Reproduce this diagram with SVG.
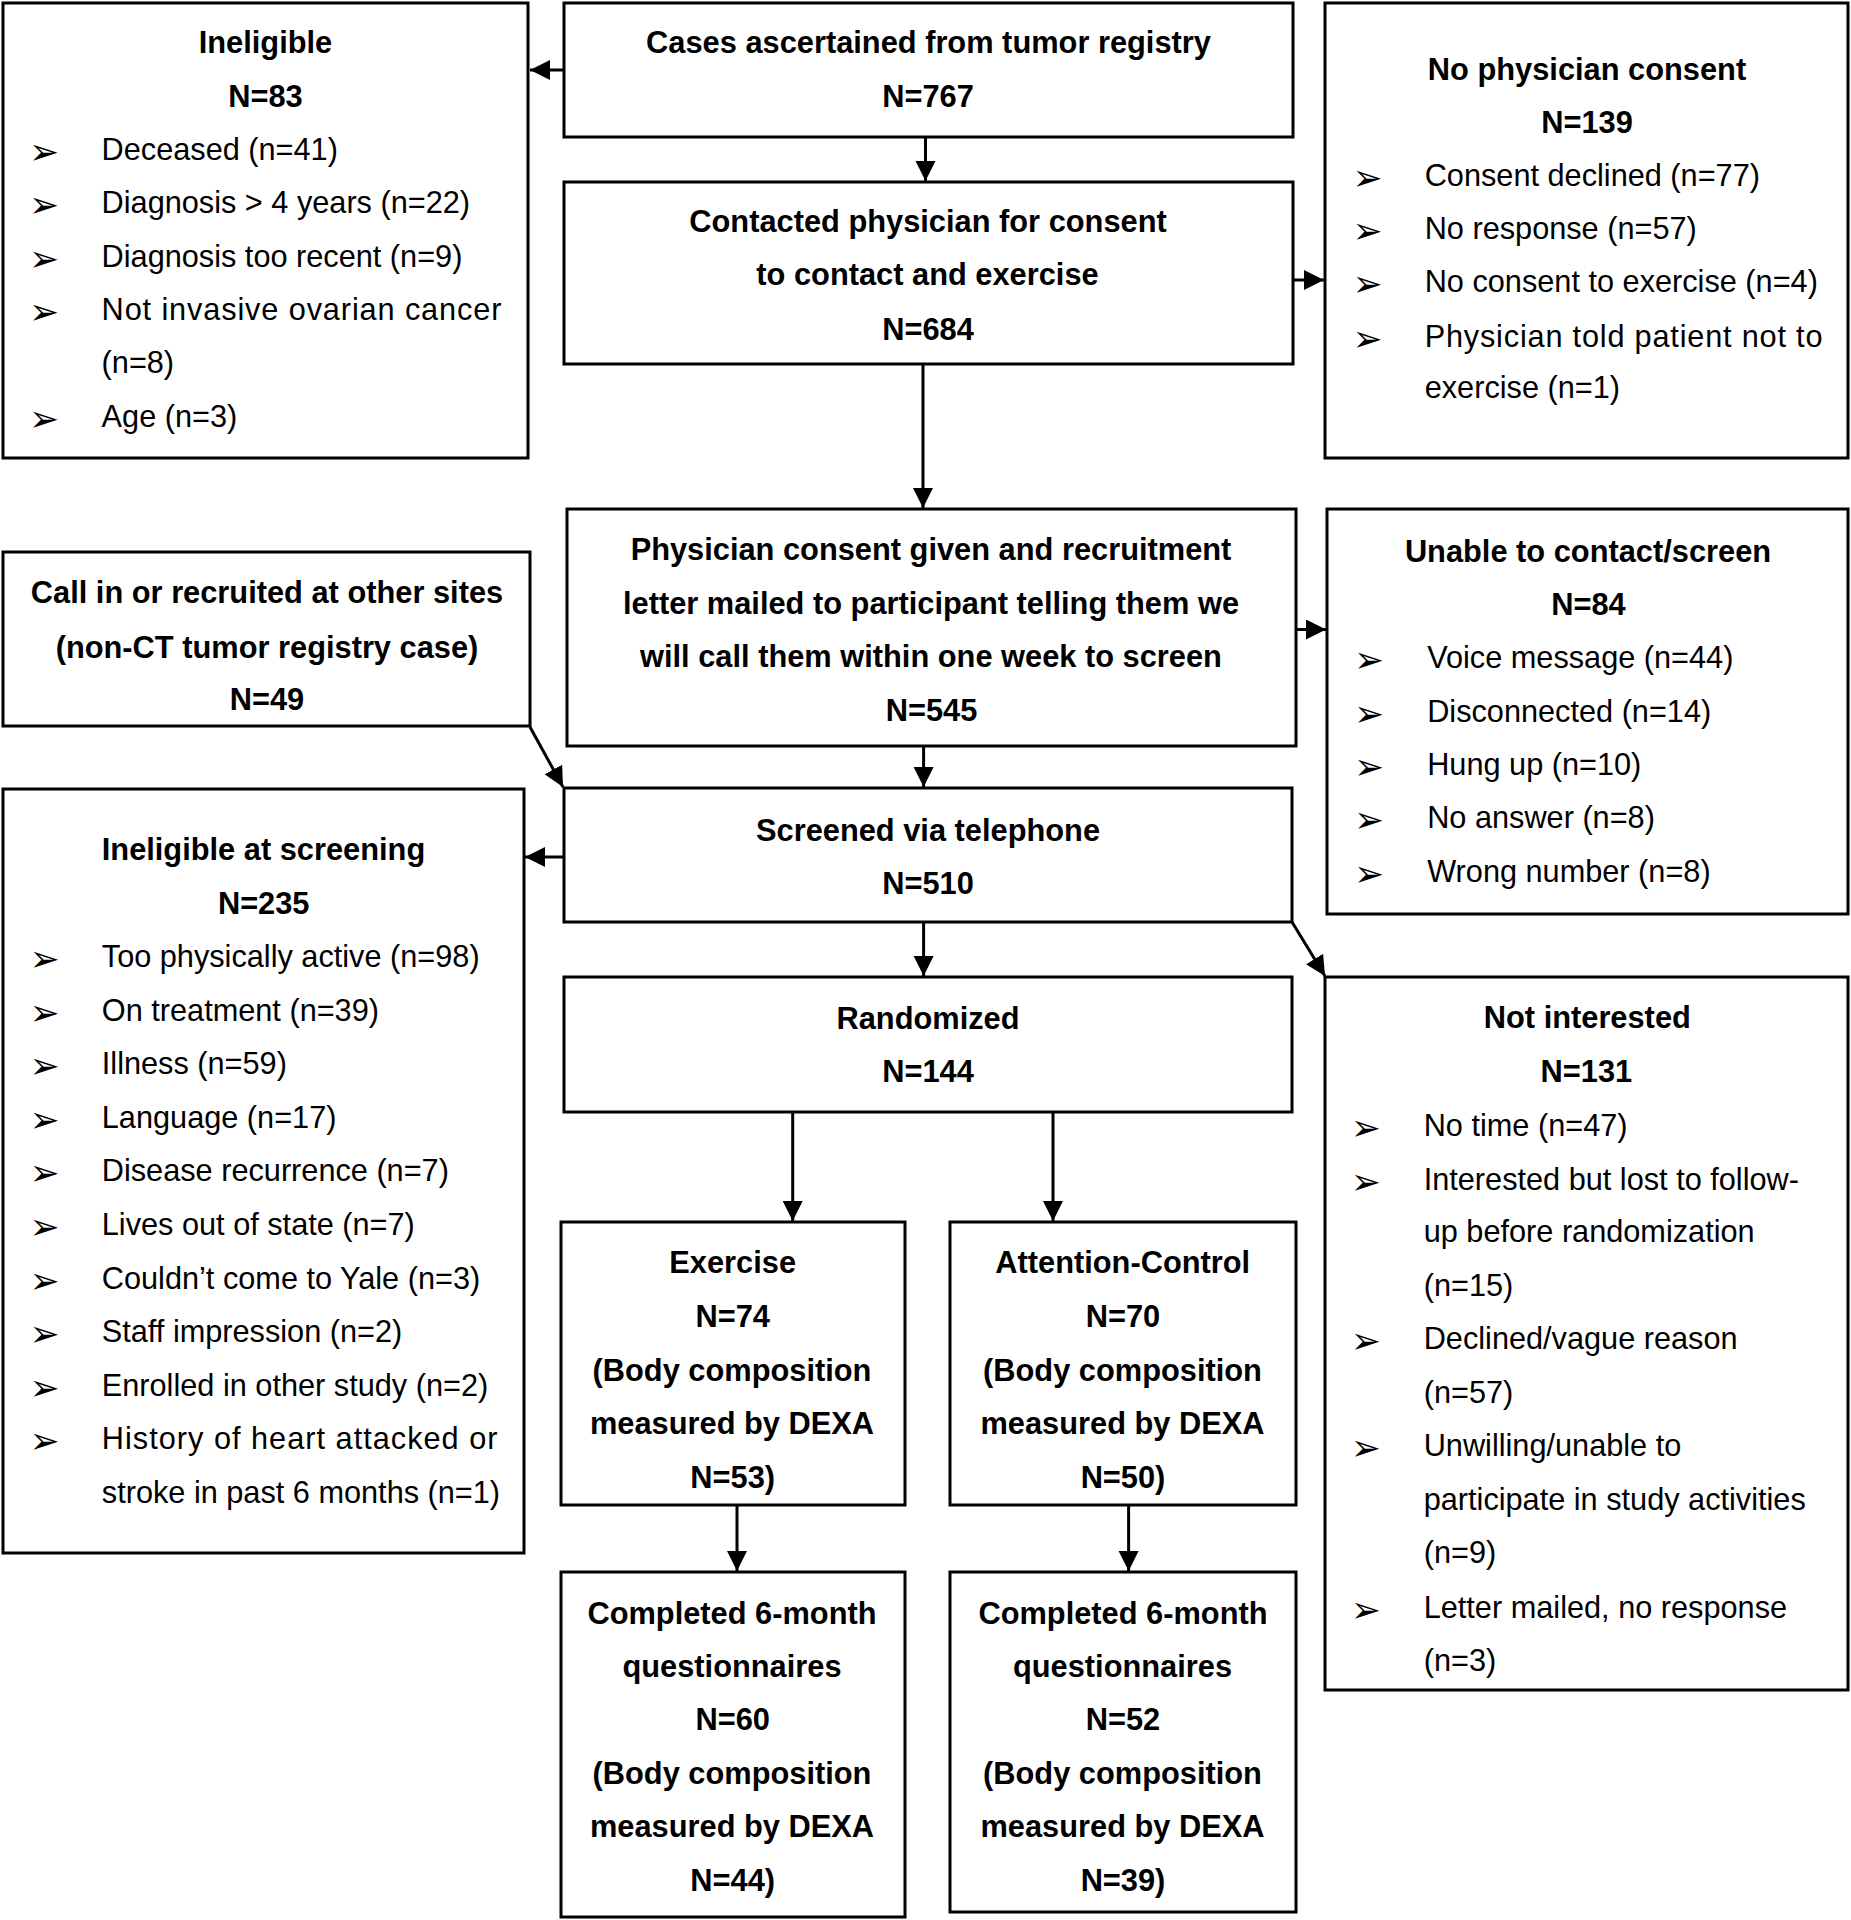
<svg xmlns="http://www.w3.org/2000/svg" width="1851" height="1920" viewBox="0 0 1851 1920">
<defs>
<marker id="ah" markerUnits="userSpaceOnUse" markerWidth="22" markerHeight="22" refX="20" refY="10" orient="auto">
<path d="M0,0 L20,10 L0,20 z" fill="#000"/>
</marker>
<style>
.box{fill:#fff;stroke:#000;stroke-width:3}
.b{font-family:"Liberation Sans",Arial,sans-serif;font-weight:bold;font-size:30.8px;text-anchor:middle;fill:#000}
.t{font-family:"Liberation Sans",Arial,sans-serif;font-size:30.7px;fill:#000}
.bl{font-family:"DejaVu Sans",sans-serif;font-size:36px;fill:#000}
.c{fill:none;stroke:#000;stroke-width:3;marker-end:url(#ah)}
</style>
</defs>
<rect width="1851" height="1920" fill="#fff"/>

<g id="connectors">
<line class="c" x1="563" y1="70" x2="530" y2="70"/>
<line class="c" x1="925.5" y1="137" x2="925.5" y2="181"/>
<line class="c" x1="1293" y1="280" x2="1324" y2="280"/>
<line class="c" x1="923" y1="364" x2="923" y2="508"/>
<line class="c" x1="1296" y1="629.5" x2="1326" y2="629.5"/>
<line class="c" x1="530" y1="727" x2="563" y2="787"/>
<line class="c" x1="923.6" y1="747" x2="923.6" y2="787"/>
<line class="c" x1="563" y1="857" x2="525" y2="857"/>
<line class="c" x1="1292" y1="922" x2="1325" y2="976"/>
<line class="c" x1="923.6" y1="923" x2="923.6" y2="976"/>
<line class="c" x1="792.7" y1="1112" x2="792.7" y2="1221"/>
<line class="c" x1="1053" y1="1112" x2="1053" y2="1221"/>
<line class="c" x1="737" y1="1505" x2="737" y2="1571"/>
<line class="c" x1="1128.6" y1="1505" x2="1128.6" y2="1571"/>
</g>

<g id="ineligible">
<rect class="box" x="3" y="3" width="525" height="455"/>
<text class="b" x="265.5" y="53.3">Ineligible</text>
<text class="b" x="265.5" y="107">N=83</text>
<text class="bl" x="29" y="164">➢</text><text class="t" x="101.6" y="160">Deceased (n=41)</text>
<text class="bl" x="29" y="217.3">➢</text><text class="t" x="101.6" y="213.3">Diagnosis &gt; 4 years (n=22)</text>
<text class="bl" x="29" y="270.7">➢</text><text class="t" x="101.6" y="266.7">Diagnosis too recent (n=9)</text>
<text class="bl" x="29" y="324">➢</text><text class="t" x="101.6" y="320" textLength="399.8" lengthAdjust="spacing">Not invasive ovarian cancer</text>
<text class="t" x="101.6" y="373.3">(n=8)</text>
<text class="bl" x="29" y="430.7">➢</text><text class="t" x="101.6" y="426.7">Age (n=3)</text>
</g>

<g id="cases">
<rect class="box" x="564" y="3" width="729" height="134"/>
<text class="b" x="928.5" y="53.3">Cases ascertained from tumor registry</text>
<text class="b" x="928" y="107">N=767</text>
</g>

<g id="no-physician-consent">
<rect class="box" x="1325" y="3" width="523" height="455"/>
<text class="b" x="1587" y="80">No physician consent</text>
<text class="b" x="1587" y="133">N=139</text>
<text class="bl" x="1352.5" y="190">➢</text><text class="t" x="1424.7" y="186">Consent declined (n=77)</text>
<text class="bl" x="1352.5" y="243.3">➢</text><text class="t" x="1424.7" y="239.3">No response (n=57)</text>
<text class="bl" x="1352.5" y="296">➢</text><text class="t" x="1424.7" y="292">No consent to exercise (n=4)</text>
<text class="bl" x="1352.5" y="350.7">➢</text><text class="t" x="1424.7" y="346.7" textLength="397.8" lengthAdjust="spacing">Physician told patient not to</text>
<text class="t" x="1424.7" y="398.3">exercise (n=1)</text>
</g>

<g id="contacted">
<rect class="box" x="564" y="182" width="729" height="182"/>
<text class="b" x="928" y="231.7">Contacted physician for consent</text>
<text class="b" x="927.5" y="285">to contact and exercise</text>
<text class="b" x="928" y="340">N=684</text>
</g>

<g id="physician-consent-given">
<rect class="box" x="567" y="509" width="729" height="237"/>
<text class="b" x="931" y="560">Physician consent given and recruitment</text>
<text class="b" x="931" y="613.8">letter mailed to participant telling them we</text>
<text class="b" x="931" y="667.3">will call them within one week to screen</text>
<text class="b" x="931.5" y="720.7">N=545</text>
</g>

<g id="call-in">
<rect class="box" x="3" y="552" width="527" height="174"/>
<text class="b" x="267" y="603.3">Call in or recruited at other sites</text>
<text class="b" x="267" y="657.7">(non-CT tumor registry case)</text>
<text class="b" x="267" y="710">N=49</text>
</g>

<g id="unable">
<rect class="box" x="1327" y="509" width="521" height="405"/>
<text class="b" x="1588" y="561.7">Unable to contact/screen</text>
<text class="b" x="1588.5" y="615">N=84</text>
<text class="bl" x="1354" y="672.3">➢</text><text class="t" x="1427.2" y="668.3">Voice message (n=44)</text>
<text class="bl" x="1354" y="725.7">➢</text><text class="t" x="1427.2" y="721.7">Disconnected (n=14)</text>
<text class="bl" x="1354" y="779">➢</text><text class="t" x="1427.2" y="775">Hung up (n=10)</text>
<text class="bl" x="1354" y="832.3">➢</text><text class="t" x="1427.2" y="828.3">No answer (n=8)</text>
<text class="bl" x="1354" y="885.7">➢</text><text class="t" x="1427.2" y="881.7">Wrong number (n=8)</text>
</g>

<g id="screened">
<rect class="box" x="564" y="788" width="728" height="134"/>
<text class="b" x="928" y="841">Screened via telephone</text>
<text class="b" x="928" y="893.7">N=510</text>
</g>

<g id="ineligible-screening">
<rect class="box" x="3" y="789" width="521" height="764"/>
<text class="b" x="263.5" y="860">Ineligible at screening</text>
<text class="b" x="263.7" y="913.8">N=235</text>
<text class="bl" x="29.4" y="970.7">➢</text><text class="t" x="101.8" y="966.7">Too physically active (n=98)</text>
<text class="bl" x="29.4" y="1025">➢</text><text class="t" x="101.8" y="1021">On treatment (n=39)</text>
<text class="bl" x="29.4" y="1078.3">➢</text><text class="t" x="101.8" y="1074.3">Illness (n=59)</text>
<text class="bl" x="29.4" y="1132">➢</text><text class="t" x="101.8" y="1128">Language (n=17)</text>
<text class="bl" x="29.4" y="1185.4">➢</text><text class="t" x="101.8" y="1181.4">Disease recurrence (n=7)</text>
<text class="bl" x="29.4" y="1238.7">➢</text><text class="t" x="101.8" y="1234.7">Lives out of state (n=7)</text>
<text class="bl" x="29.4" y="1292.5">➢</text><text class="t" x="101.8" y="1288.5">Couldn’t come to Yale (n=3)</text>
<text class="bl" x="29.4" y="1345.8">➢</text><text class="t" x="101.8" y="1341.8">Staff impression (n=2)</text>
<text class="bl" x="29.4" y="1400">➢</text><text class="t" x="101.8" y="1396">Enrolled in other study (n=2)</text>
<text class="bl" x="29.4" y="1453.4">➢</text><text class="t" x="101.8" y="1449.4" textLength="395.7" lengthAdjust="spacing">History of heart attacked or</text>
<text class="t" x="101.8" y="1503">stroke in past 6 months (n=1)</text>
</g>

<g id="randomized">
<rect class="box" x="564" y="977" width="728" height="135"/>
<text class="b" x="928" y="1029">Randomized</text>
<text class="b" x="928" y="1081.8">N=144</text>
</g>

<g id="not-interested">
<rect class="box" x="1325" y="977" width="523" height="713"/>
<text class="b" x="1587.3" y="1028.4">Not interested</text>
<text class="b" x="1586.4" y="1082.4">N=131</text>
<text class="bl" x="1350.7" y="1139.5">➢</text><text class="t" x="1423.7" y="1135.5">No time (n=47)</text>
<text class="bl" x="1350.7" y="1193.5">➢</text><text class="t" x="1423.7" y="1189.5">Interested but lost to follow-</text>
<text class="t" x="1423.7" y="1242">up before randomization</text>
<text class="t" x="1423.7" y="1296">(n=15)</text>
<text class="bl" x="1350.7" y="1353">➢</text><text class="t" x="1423.7" y="1349">Declined/vague reason</text>
<text class="t" x="1423.7" y="1402.6">(n=57)</text>
<text class="bl" x="1350.7" y="1459.7">➢</text><text class="t" x="1423.7" y="1455.7">Unwilling/unable to</text>
<text class="t" x="1423.7" y="1509.7">participate in study activities</text>
<text class="t" x="1423.7" y="1563">(n=9)</text>
<text class="bl" x="1350.7" y="1621.8">➢</text><text class="t" x="1423.7" y="1617.8">Letter mailed, no response</text>
<text class="t" x="1423.7" y="1671">(n=3)</text>
</g>

<g id="exercise">
<rect class="box" x="561" y="1222" width="344" height="283"/>
<text class="b" x="732.7" y="1273.4">Exercise</text>
<text class="b" x="732.7" y="1327.2">N=74</text>
<text class="b" x="732" y="1380.6">(Body composition</text>
<text class="b" x="732" y="1434">measured by DEXA</text>
<text class="b" x="732.7" y="1487.7">N=53)</text>
</g>

<g id="attention-control">
<rect class="box" x="950" y="1222" width="346" height="283"/>
<text class="b" x="1122.7" y="1273.4">Attention-Control</text>
<text class="b" x="1123" y="1327.2">N=70</text>
<text class="b" x="1122.5" y="1380.6">(Body composition</text>
<text class="b" x="1122.5" y="1434">measured by DEXA</text>
<text class="b" x="1123" y="1487.7">N=50)</text>
</g>

<g id="completed-exercise">
<rect class="box" x="561" y="1572" width="344" height="345"/>
<text class="b" x="732" y="1623.6">Completed 6-month</text>
<text class="b" x="732" y="1676.5">questionnaires</text>
<text class="b" x="732.7" y="1729.8">N=60</text>
<text class="b" x="732" y="1784">(Body composition</text>
<text class="b" x="732" y="1837.4">measured by DEXA</text>
<text class="b" x="732.7" y="1891.2">N=44)</text>
</g>

<g id="completed-control">
<rect class="box" x="950" y="1572" width="346" height="340"/>
<text class="b" x="1123" y="1623.6">Completed 6-month</text>
<text class="b" x="1122.5" y="1676.5">questionnaires</text>
<text class="b" x="1123" y="1729.8">N=52</text>
<text class="b" x="1122.5" y="1784">(Body composition</text>
<text class="b" x="1122.5" y="1837.4">measured by DEXA</text>
<text class="b" x="1123" y="1891.2">N=39)</text>
</g>
</svg>
